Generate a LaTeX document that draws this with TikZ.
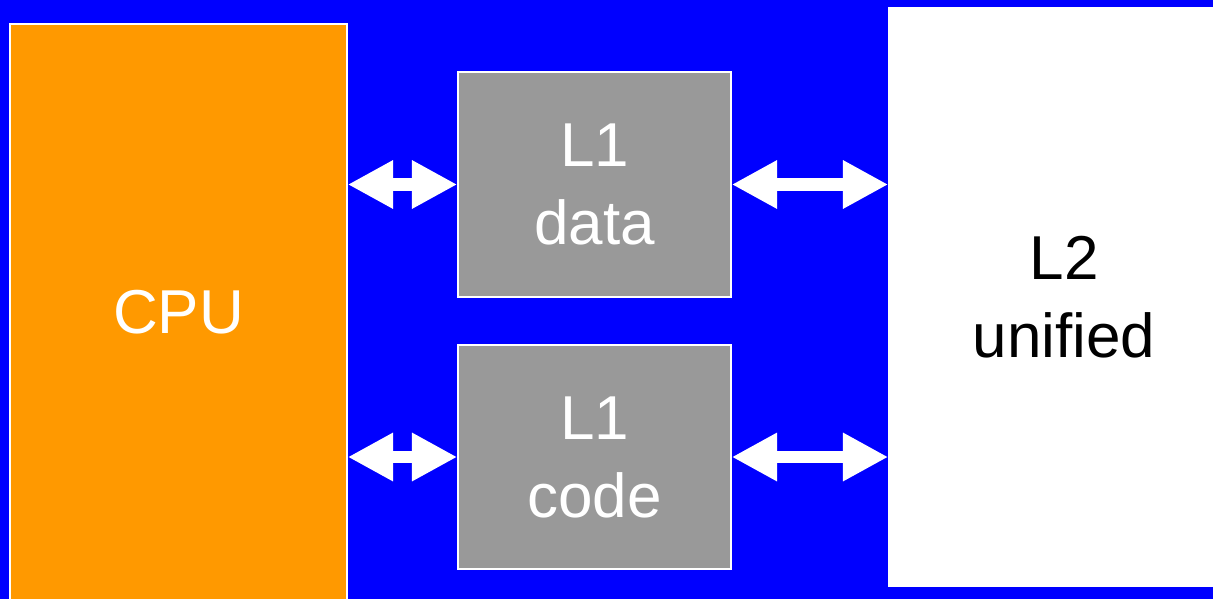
\documentclass[tikz,border=0pt]{standalone}
\usepackage{fontspec}
\setmainfont{Liberation Sans}
\usetikzlibrary{arrows.meta}
\definecolor{bgblue}{HTML}{0000FF}
\definecolor{cpuorange}{HTML}{FF9900}
\definecolor{cachegray}{HTML}{999999}
\begin{document}
\begin{tikzpicture}[x=0.75pt,y=-0.75pt,
  block/.style={draw=white,line width=1.1pt,inner sep=0pt,align=center,
    font=\fontsize{46.5}{58.5}\selectfont},
  link/.style={white,line width=9pt,
    {Triangle[length=34pt,width=34pt]}-{Triangle[length=34pt,width=34pt]}}]
  % page and background
  \clip (0,0) rectangle (1213,599);
  \fill[bgblue] (0,0) rectangle (1213,599);

  % processor and caches
  \node[block,fill=cpuorange,text=white,minimum width=337*0.75pt,minimum height=577*0.75pt]
    (cpu) at (178.5,312.5) {CPU};
  \node[block,fill=cachegray,text=white,minimum width=273*0.75pt,minimum height=225*0.75pt]
    (l1d) at (594.5,184.5) {L1\\data};
  \node[block,fill=cachegray,text=white,minimum width=273*0.75pt,minimum height=224*0.75pt]
    (l1c) at (594.5,457) {L1\\code};
  \node[block,fill=white,text=black,minimum width=350*0.75pt,minimum height=578*0.75pt]
    (l2) at (1064,297) {L2\\unified};

  % two-way links
  \draw[link] (cpu.east |- l1d.west) -- (l1d.west);
  \draw[link] (cpu.east |- l1c.west) -- (l1c.west);
  \draw[link] (l1d.east) -- (l1d.east -| l2.west);
  \draw[link] (l1c.east) -- (l1c.east -| l2.west);
\end{tikzpicture}
\end{document}
